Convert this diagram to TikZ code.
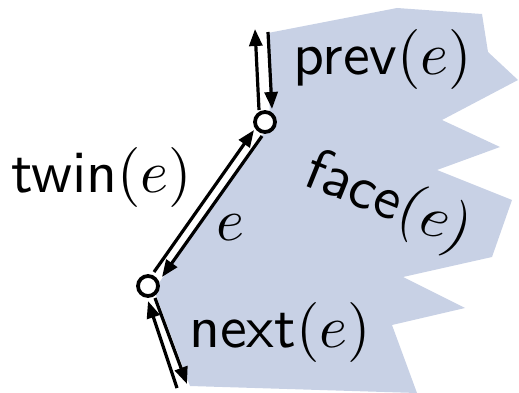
\documentclass[tikz,border=0pt]{standalone}
\usetikzlibrary{arrows.meta}
\definecolor{facefill}{RGB}{200,209,229}
\begin{document}
\begin{tikzpicture}[x=1pt,y=-1pt,
  lbl/.style={inner sep=0pt,font=\sffamily,scale=6,transform shape},
  vtx/.style={circle,draw=black,fill=white,line width=3.8pt,minimum size=20pt,inner sep=0pt},
  half/.style={line width=3.2pt,-{Triangle[length=17pt,width=13pt]}}]
\useasboundingbox (0,0) rectangle (519,393);
% face polygon
\fill[facefill] (268,33) -- (397,8) -- (482,14) -- (488,52) -- (518,80) -- (442,120)
  -- (500,147) -- (437,170) -- (512,200) -- (492,257) -- (403,277) -- (465,308)
  -- (392,325) -- (417,393) -- (190,386) -- (154,290) -- (270,124) -- cycle;
% half-edge end points
\coordinate (pu0) at (259,110); \coordinate (pu1) at (255,29);
\coordinate (pd0) at (268,32);  \coordinate (pd1) at (272,109);
\coordinate (tw0) at (154,272); \coordinate (tw1) at (254,130);
\coordinate (ee0) at (262,136); \coordinate (ee1) at (162,277);
\coordinate (nu0) at (177,388); \coordinate (nu1) at (148,301);
\coordinate (nd0) at (155,298); \coordinate (nd1) at (187,384);
\draw[half] (pu0) -- (pu1);
\draw[half] (pd0) -- (pd1);
\draw[half] (tw0) -- (tw1);
\draw[half] (ee0) -- (ee1);
\draw[half] (nu0) -- (nu1);
\draw[half] (nd0) -- (nd1);
% vertices
\node[vtx] (v1) at (265,122) {};
\node[vtx] (v2) at (148,286) {};
% labels
\node[lbl,anchor=base west] (prev) at (292,75) {prev$(e)$};
\node[lbl,anchor=base west] (twin) at (10,192) {twin$(e)$};
\node[lbl,anchor=base west] (next) at (188,347) {next$(e)$};
\node[lbl,anchor=base] (elab) at (230,240) {$e$};
\node[lbl,rotate=-22] (face) at (388,203) {face$(e)$};
\end{tikzpicture}
\end{document}
